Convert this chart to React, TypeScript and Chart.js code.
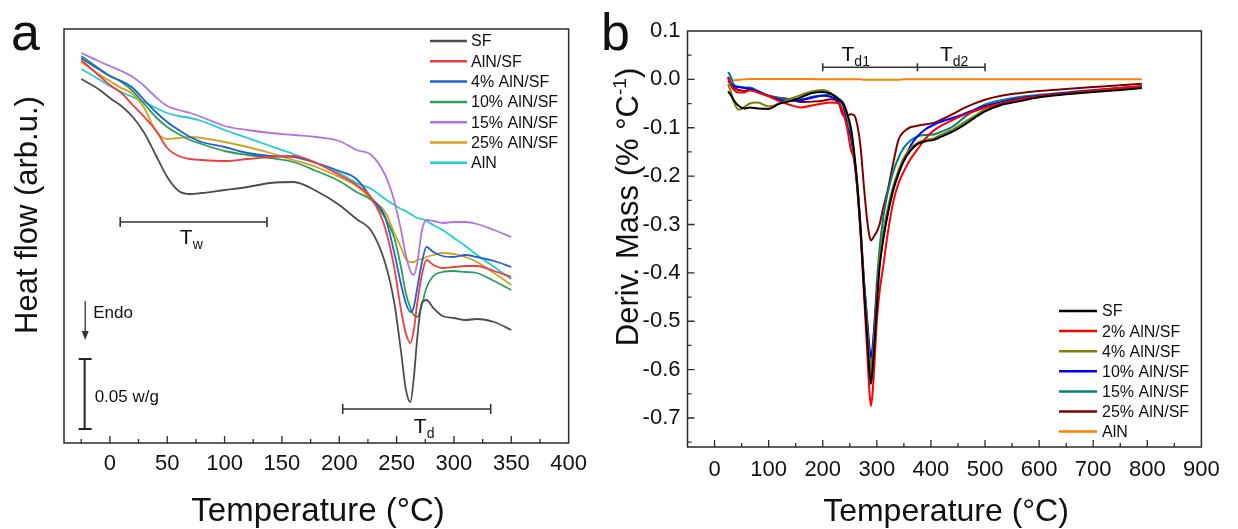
import React, { useEffect, useRef } from "react";
import { Chart, registerables } from "chart.js";

Chart.register(...registerables);

const FONT = "'Liberation Sans', Arial, Helvetica, sans-serif";
const INK = "#111111";
const FRAME = "#2a2a2a";

// ---------------- Panel a : DSC (heat flow, arbitrary units) ----------------
const dscTemps = [-25, -10, 0, 10, 20, 30, 40, 50, 60, 70, 80, 100, 120, 140, 160, 180, 200, 215, 228, 240, 248, 254, 258, 262, 265, 268, 272, 276, 282, 290, 300, 310, 320, 335, 350];
const dscSF = [364, 354, 345, 337, 326, 310, 288, 266, 252, 249, 250, 253, 256, 260, 261, 252, 238, 224, 212, 180, 140, 90, 54, 41, 65, 105, 140, 143, 135, 127, 125, 123, 124, 121, 113];
const dscAlNSF = [383, 368, 358, 350, 338, 326, 313, 295, 287, 284, 283, 282, 284, 286, 287, 280, 268, 258, 245, 215, 175, 132, 110, 100, 113, 140, 168, 183, 178, 175, 176, 177, 177, 172, 166];
const dsc4 = [385, 374, 367, 362, 355, 343, 331, 321, 313, 306, 301, 296, 290, 287, 286, 280, 272, 264, 245, 226, 190, 158, 140, 131, 136, 155, 180, 196, 191, 187, 186, 188, 186, 182, 176];
const dsc10 = [387, 375, 367, 361, 352, 339, 326, 316, 309, 303, 299, 292, 288, 285, 281, 272, 262, 251, 243, 225, 205, 175, 150, 135, 128, 126, 138, 155, 167, 171, 172, 171, 170, 162, 153];
const dsc15 = [390, 382, 377, 372, 366, 357, 346, 337, 333, 330, 326, 317, 313, 310, 308, 306, 302, 293, 288, 268, 242, 212, 188, 172, 168, 180, 212, 223, 222, 220, 221, 221, 219, 213, 206];
const dsc25 = [381, 369, 362, 355, 349, 335, 312, 304, 305, 306, 305, 301, 296, 290, 283, 276, 266, 257, 244, 231, 210, 195, 184, 181, 181, 183, 184, 186, 188, 190, 189, 186, 181, 170, 158];
const dscAlN = [374, 364, 357, 351, 346, 341, 335, 330, 327, 325, 322, 313, 305, 297, 289, 280, 270, 260, 254, 244, 238, 234, 232, 229, 227, 225, 224, 222, 218, 213, 205, 197, 188, 176, 164];
const dscLabels = ["SF", "AlN/SF", "4% AlN/SF", "10% AlN/SF", "15% AlN/SF", "25% AlN/SF", "AlN"];
const dscColors = ["#4d4d4d", "#f23b3e", "#2262d4", "#2c9e5a", "#b274e4", "#d4a11c", "#1fcfd4"];
const dscXMajor = [0, 50, 100, 150, 200, 250, 300, 350];
const dscXMinor = [-25, 25, 75, 125, 175, 225, 275, 325, 375];
const twRange = [9, 137];
const twLevel = 221;
const tdRange = [203, 332];
const tdLevel = 34;
const endoArrow = { x: -21.5, from: 142, to: 103 };
const scaleBar = { x: -22, from: 14, to: 84, label: "0.05 w/g" };

// ---------------- Panel b : DTG ----------------
const dtgTemps = [25, 30, 35, 45, 55, 65, 80, 100, 120, 140, 160, 180, 200, 215, 230, 238, 245, 252, 258, 264, 270, 276, 282, 286, 289, 292, 296, 300, 305, 312, 320, 330, 340, 350, 362, 375, 390, 405, 420, 440, 460, 480, 500, 530, 560, 600, 650, 700, 750, 790];
const dtgSF = [-0.025, -0.032, -0.042, -0.055, -0.060, -0.058, -0.060, -0.061, -0.050, -0.045, -0.037, -0.028, -0.026, -0.030, -0.042, -0.050, -0.070, -0.100, -0.150, -0.220, -0.310, -0.430, -0.530, -0.600, -0.630, -0.600, -0.540, -0.470, -0.390, -0.330, -0.280, -0.230, -0.195, -0.168, -0.148, -0.134, -0.128, -0.125, -0.118, -0.108, -0.095, -0.080, -0.066, -0.053, -0.046, -0.037, -0.031, -0.026, -0.022, -0.018];
const dtg2 = [0.003, -0.012, -0.021, -0.027, -0.027, -0.023, -0.027, -0.035, -0.045, -0.053, -0.058, -0.054, -0.050, -0.048, -0.050, -0.070, -0.100, -0.145, -0.165, -0.230, -0.320, -0.440, -0.560, -0.640, -0.675, -0.650, -0.580, -0.500, -0.440, -0.385, -0.320, -0.255, -0.215, -0.190, -0.165, -0.145, -0.122, -0.106, -0.095, -0.084, -0.074, -0.066, -0.058, -0.050, -0.042, -0.035, -0.029, -0.023, -0.018, -0.014];
const dtg4 = [-0.010, -0.025, -0.045, -0.063, -0.057, -0.050, -0.048, -0.056, -0.050, -0.040, -0.032, -0.025, -0.022, -0.028, -0.042, -0.050, -0.075, -0.105, -0.155, -0.215, -0.305, -0.420, -0.510, -0.575, -0.610, -0.580, -0.520, -0.450, -0.370, -0.315, -0.268, -0.222, -0.188, -0.162, -0.143, -0.131, -0.125, -0.122, -0.114, -0.104, -0.090, -0.076, -0.062, -0.050, -0.044, -0.036, -0.030, -0.025, -0.021, -0.017];
const dtg10 = [0.005, -0.008, -0.014, -0.016, -0.018, -0.019, -0.025, -0.034, -0.042, -0.044, -0.043, -0.038, -0.034, -0.036, -0.045, -0.055, -0.095, -0.120, -0.165, -0.225, -0.315, -0.415, -0.495, -0.550, -0.575, -0.555, -0.500, -0.440, -0.380, -0.325, -0.275, -0.228, -0.195, -0.168, -0.138, -0.118, -0.103, -0.094, -0.087, -0.080, -0.072, -0.063, -0.055, -0.047, -0.040, -0.034, -0.028, -0.023, -0.018, -0.014];
const dtg15 = [0.015, 0.006, -0.010, -0.015, -0.017, -0.017, -0.024, -0.034, -0.039, -0.041, -0.041, -0.036, -0.033, -0.031, -0.040, -0.050, -0.080, -0.110, -0.160, -0.220, -0.310, -0.410, -0.500, -0.565, -0.595, -0.570, -0.500, -0.420, -0.350, -0.285, -0.235, -0.192, -0.162, -0.141, -0.127, -0.118, -0.115, -0.114, -0.108, -0.098, -0.080, -0.064, -0.052, -0.043, -0.037, -0.032, -0.027, -0.022, -0.018, -0.015];
const dtg25 = [-0.003, -0.010, -0.017, -0.022, -0.024, -0.021, -0.026, -0.034, -0.038, -0.041, -0.047, -0.046, -0.044, -0.041, -0.050, -0.075, -0.075, -0.072, -0.074, -0.095, -0.140, -0.220, -0.290, -0.322, -0.333, -0.330, -0.322, -0.315, -0.300, -0.265, -0.230, -0.175, -0.125, -0.108, -0.099, -0.096, -0.093, -0.090, -0.083, -0.072, -0.060, -0.050, -0.042, -0.034, -0.029, -0.024, -0.020, -0.016, -0.012, -0.009];
const dtgAlN = [0.004, 0.000, -0.002, -0.001, 0.000, 0.001, 0.001, 0.001, 0.001, 0.001, 0.001, 0.001, 0.000, 0.000, 0.000, 0.000, 0.000, 0.000, 0.000, 0.000, 0.000, -0.001, -0.001, -0.001, -0.001, -0.001, -0.001, -0.001, -0.001, -0.001, -0.001, -0.001, -0.001, 0.000, 0.000, 0.000, 0.000, 0.000, 0.000, 0.000, 0.000, 0.000, 0.000, 0.000, 0.000, 0.000, 0.000, 0.000, 0.000, 0.000];
const dtgLabels = ["SF", "2% AlN/SF", "4% AlN/SF", "10% AlN/SF", "15% AlN/SF", "25% AlN/SF", "AlN"];
const dtgColors = ["#000000", "#ff0000", "#808000", "#0000ff", "#008080", "#800000", "#ff8000"];
const dtgXMajor = [0, 100, 200, 300, 400, 500, 600, 700, 800];
const dtgXMinor = [50, 150, 250, 350, 450, 550, 650, 750, 850];
const dtgYMajor = [-0.7, -0.6, -0.5, -0.4, -0.3, -0.2, -0.1, 0.0];
const dtgYMinor = [-0.75, -0.65, -0.55, -0.45, -0.35, -0.25, -0.15, -0.05, 0.05];
const td1Range = [200, 375];
const td2Range = [375, 500];
const tdLevelB = 0.025;

function subText(ctx: CanvasRenderingContext2D, main: string, sub: string, cx: number, base: number, size: number, subSize: number) {
  ctx.font = `${size}px ${FONT}`;
  const w1 = ctx.measureText(main).width;
  ctx.font = `${subSize}px ${FONT}`;
  const w2 = ctx.measureText(sub).width;
  const x0 = cx - (w1 + w2) / 2;
  ctx.textAlign = "left";
  ctx.textBaseline = "alphabetic";
  ctx.fillStyle = INK;
  ctx.font = `${size}px ${FONT}`;
  ctx.fillText(main, x0, base);
  ctx.font = `${subSize}px ${FONT}`;
  ctx.fillText(sub, x0 + w1, base + subSize * 0.35);
}

function bracket(ctx: CanvasRenderingContext2D, xs: number[], y: number, cap: number) {
  ctx.beginPath();
  ctx.moveTo(xs[0], y);
  ctx.lineTo(xs[xs.length - 1], y);
  xs.forEach((x) => {
    ctx.moveTo(x, y - cap);
    ctx.lineTo(x, y + cap);
  });
  ctx.stroke();
}

function drawLegend(chart: any, ctx: CanvasRenderingContext2D, x0: number, x1: number, tx: number, y0: number, dy: number) {
  ctx.textAlign = "left";
  ctx.textBaseline = "middle";
  ctx.font = `16px ${FONT}`;
  chart.data.datasets.forEach((ds: any, i: number) => {
    const y = y0 + i * dy;
    ctx.strokeStyle = ds.borderColor;
    ctx.lineWidth = 2.5;
    ctx.beginPath();
    ctx.moveTo(x0, y);
    ctx.lineTo(x1, y);
    ctx.stroke();
    ctx.fillStyle = INK;
    ctx.fillText(ds.label, tx, y + 1);
  });
}

function rotatedTitle(ctx: CanvasRenderingContext2D, cx: number, cy: number, parts: { t: string; size: number; rise: number }[]) {
  ctx.save();
  ctx.translate(cx, cy);
  ctx.rotate(-Math.PI / 2);
  ctx.textAlign = "left";
  ctx.textBaseline = "alphabetic";
  ctx.fillStyle = INK;
  let total = 0;
  const widths = parts.map((p) => {
    ctx.font = `${p.size}px ${FONT}`;
    const w = ctx.measureText(p.t).width;
    total += w;
    return w;
  });
  let x = -total / 2;
  parts.forEach((p, i) => {
    ctx.font = `${p.size}px ${FONT}`;
    ctx.fillText(p.t, x, -p.rise);
    x += widths[i];
  });
  ctx.restore();
}

const decoA = {
  id: "decoA",
  afterDatasetsDraw(chart: any) {
    const ctx: CanvasRenderingContext2D = chart.ctx;
    const a = chart.chartArea;
    const xs = chart.scales.x;
    const ys = chart.scales.y;
    ctx.save();
    ctx.strokeStyle = FRAME;
    ctx.lineWidth = 1.5;
    ctx.strokeRect(a.left, a.top, a.right - a.left, a.bottom - a.top);
    ctx.lineWidth = 1.3;
    ctx.beginPath();
    dscXMajor.forEach((v) => {
      const p = xs.getPixelForValue(v);
      ctx.moveTo(p, a.bottom);
      ctx.lineTo(p, a.bottom - 7);
    });
    dscXMinor.forEach((v) => {
      const p = xs.getPixelForValue(v);
      ctx.moveTo(p, a.bottom);
      ctx.lineTo(p, a.bottom - 4);
    });
    ctx.stroke();

    // brackets
    ctx.strokeStyle = "#333333";
    ctx.lineWidth = 1.6;
    bracket(ctx, twRange.map((v) => xs.getPixelForValue(v)), ys.getPixelForValue(twLevel), 5);
    bracket(ctx, tdRange.map((v) => xs.getPixelForValue(v)), ys.getPixelForValue(tdLevel), 5);
    subText(ctx, "T", "w", xs.getPixelForValue(71), ys.getPixelForValue(twLevel - 22), 21, 14);
    subText(ctx, "T", "d", xs.getPixelForValue(274), ys.getPixelForValue(tdLevel - 24), 21, 14);

    // endo arrow
    const ax = xs.getPixelForValue(endoArrow.x);
    const ay1 = ys.getPixelForValue(endoArrow.from);
    const ay2 = ys.getPixelForValue(endoArrow.to);
    ctx.strokeStyle = "#333333";
    ctx.lineWidth = 1.3;
    ctx.beginPath();
    ctx.moveTo(ax, ay1);
    ctx.lineTo(ax, ay2 - 6);
    ctx.stroke();
    ctx.fillStyle = "#333333";
    ctx.beginPath();
    ctx.moveTo(ax - 3.5, ay2 - 9);
    ctx.lineTo(ax + 3.5, ay2 - 9);
    ctx.lineTo(ax, ay2);
    ctx.closePath();
    ctx.fill();
    ctx.fillStyle = INK;
    ctx.font = `17px ${FONT}`;
    ctx.textAlign = "left";
    ctx.textBaseline = "middle";
    ctx.fillText("Endo", ax + 8, ys.getPixelForValue(130));

    // scale bar
    const sx = xs.getPixelForValue(scaleBar.x);
    const sy1 = ys.getPixelForValue(scaleBar.from);
    const sy2 = ys.getPixelForValue(scaleBar.to);
    ctx.strokeStyle = "#222222";
    ctx.lineWidth = 2;
    ctx.beginPath();
    ctx.moveTo(sx, sy1);
    ctx.lineTo(sx, sy2);
    ctx.moveTo(sx - 6, sy1);
    ctx.lineTo(sx + 7, sy1);
    ctx.moveTo(sx - 6, sy2);
    ctx.lineTo(sx + 7, sy2);
    ctx.stroke();
    ctx.fillText(scaleBar.label, sx + 10, (sy1 + sy2) / 2 + 3);
    ctx.restore();
  },
  afterDraw(chart: any) {
    const ctx: CanvasRenderingContext2D = chart.ctx;
    ctx.save();
    drawLegend(chart, ctx, 430, 467, 471, 41, 20.3);
    // panel letter
    ctx.fillStyle = INK;
    ctx.font = `52px ${FONT}`;
    ctx.textAlign = "left";
    ctx.textBaseline = "alphabetic";
    ctx.fillText("a", 11, 50);
    // axis titles
    ctx.font = `33px ${FONT}`;
    ctx.textAlign = "center";
    ctx.fillText("Temperature (°C)", 318, 521);
    rotatedTitle(ctx, 37, 215, [{ t: "Heat flow (arb.u.)", size: 31, rise: 0 }]);
    ctx.restore();
  },
};

const decoB = {
  id: "decoB",
  afterDatasetsDraw(chart: any) {
    const ctx: CanvasRenderingContext2D = chart.ctx;
    const a = chart.chartArea;
    const xs = chart.scales.x;
    const ys = chart.scales.y;
    ctx.save();
    ctx.strokeStyle = FRAME;
    ctx.lineWidth = 1.5;
    ctx.strokeRect(a.left, a.top, a.right - a.left, a.bottom - a.top);
    ctx.lineWidth = 1.3;
    ctx.beginPath();
    dtgXMajor.forEach((v) => {
      const p = xs.getPixelForValue(v);
      ctx.moveTo(p, a.bottom);
      ctx.lineTo(p, a.bottom - 7);
    });
    dtgXMinor.forEach((v) => {
      const p = xs.getPixelForValue(v);
      ctx.moveTo(p, a.bottom);
      ctx.lineTo(p, a.bottom - 4);
    });
    dtgYMajor.forEach((v) => {
      const p = ys.getPixelForValue(v);
      ctx.moveTo(a.left, p);
      ctx.lineTo(a.left + 7, p);
    });
    dtgYMinor.forEach((v) => {
      const p = ys.getPixelForValue(v);
      ctx.moveTo(a.left, p);
      ctx.lineTo(a.left + 4, p);
    });
    ctx.stroke();

    ctx.strokeStyle = "#333333";
    ctx.lineWidth = 1.6;
    bracket(ctx, [td1Range[0], td1Range[1], td2Range[1]].map((v) => xs.getPixelForValue(v)), ys.getPixelForValue(tdLevelB), 4);
    subText(ctx, "T", "d1", xs.getPixelForValue(261), ys.getPixelForValue(0.037), 21, 14);
    subText(ctx, "T", "d2", xs.getPixelForValue(443), ys.getPixelForValue(0.037), 21, 14);
    ctx.restore();
  },
  afterDraw(chart: any) {
    const ctx: CanvasRenderingContext2D = chart.ctx;
    ctx.save();
    drawLegend(chart, ctx, 464, 502, 507, 311, 20.1);
    ctx.fillStyle = INK;
    ctx.font = `52px ${FONT}`;
    ctx.textAlign = "left";
    ctx.textBaseline = "alphabetic";
    ctx.fillText("b", 6, 50);
    ctx.font = `32px ${FONT}`;
    ctx.textAlign = "center";
    ctx.fillText("Temperature (°C)", 351, 521);
    rotatedTitle(ctx, 43, 207, [
      { t: "Deriv. Mass (% °C", size: 31, rise: 0 },
      { t: "-1", size: 19, rise: 12 },
      { t: ")", size: 31, rise: 0 },
    ]);
    ctx.restore();
  },
};

function makeDatasets(temps: number[], series: number[][], labels: string[], colors: string[], width: number) {
  return series.map((vals, i) => ({
    label: labels[i],
    data: temps.map((t, k) => ({ x: t, y: vals[k] })),
    borderColor: colors[i],
    backgroundColor: colors[i],
    borderWidth: width,
    pointRadius: 0,
    cubicInterpolationMode: "monotone" as const,
    fill: false,
  }));
}

export default function App() {
  const refA = useRef<HTMLCanvasElement>(null);
  const refB = useRef<HTMLCanvasElement>(null);

  useEffect(() => {
    const tickFont = { family: FONT, size: 22 };
    const chartA = new Chart(refA.current as HTMLCanvasElement, {
      type: "line",
      data: {
        datasets: makeDatasets(dscTemps, [dscSF, dscAlNSF, dsc4, dsc10, dsc15, dsc25, dscAlN], dscLabels, dscColors, 1.8) as any,
      },
      options: {
        responsive: false,
        animation: false,
        events: [],
        layout: { padding: { left: 64, right: 21, top: 29, bottom: 0 } },
        plugins: { legend: { display: false }, tooltip: { enabled: false }, title: { display: false } },
        scales: {
          x: {
            type: "linear",
            min: -40,
            max: 400,
            grid: { display: false, drawTicks: false },
            border: { display: false },
            ticks: { stepSize: 50, includeBounds: false, autoSkip: false, maxRotation: 0, padding: 8, color: INK, font: tickFont },
            afterFit: (s: any) => {
              s.height = 86;
            },
          },
          y: { type: "linear", display: false, min: 0, max: 414 },
        },
      },
      plugins: [decoA],
    });

    const chartB = new Chart(refB.current as HTMLCanvasElement, {
      type: "line",
      data: {
        datasets: makeDatasets(dtgTemps, [dtgSF, dtg2, dtg4, dtg10, dtg15, dtg25, dtgAlN], dtgLabels, dtgColors, 2) as any,
      },
      options: {
        responsive: false,
        animation: false,
        events: [],
        layout: { padding: { left: 0, right: 36.6, top: 31, bottom: 0 } },
        plugins: { legend: { display: false }, tooltip: { enabled: false }, title: { display: false } },
        scales: {
          x: {
            type: "linear",
            min: -50,
            max: 900,
            grid: { display: false, drawTicks: false },
            border: { display: false },
            ticks: { stepSize: 100, includeBounds: false, autoSkip: false, maxRotation: 0, padding: 10, color: INK, font: tickFont },
            afterFit: (s: any) => {
              s.height = 82;
            },
          },
          y: {
            type: "linear",
            min: -0.76,
            max: 0.1,
            grid: { display: false, drawTicks: false },
            border: { display: false },
            ticks: {
              stepSize: 0.1,
              includeBounds: false,
              autoSkip: false,
              padding: 7,
              color: INK,
              font: tickFont,
              callback: (v: any) => Number(v).toFixed(1),
            },
            afterFit: (s: any) => {
              s.width = 92.5;
            },
          },
        },
      },
      plugins: [decoB],
    });

    return () => {
      chartA.destroy();
      chartB.destroy();
    };
  }, []);

  return (
    <div style={{ position: "absolute", left: 0, top: 0, width: 1238, height: 529, background: "#ffffff", overflow: "hidden" }}>
      <canvas ref={refA} width={595} height={529} style={{ position: "absolute", left: 0, top: 0, width: 595, height: 529 }} />
      <canvas ref={refB} width={643} height={529} style={{ position: "absolute", left: 595, top: 0, width: 643, height: 529 }} />
    </div>
  );
}
